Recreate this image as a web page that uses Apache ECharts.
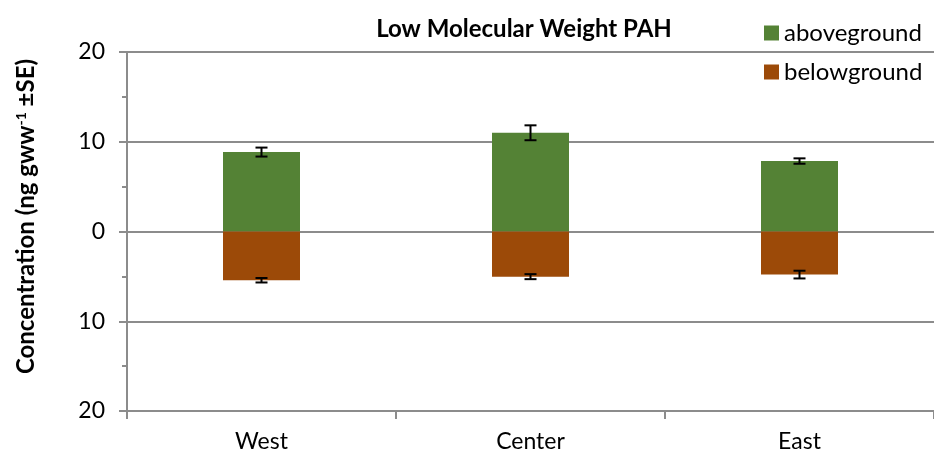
<!DOCTYPE html>
<html>
<head>
<meta charset="utf-8">
<script src="https://cdn.jsdelivr.net/npm/echarts@6/dist/echarts.min.js"></script>
<style>
  html, body { margin: 0; padding: 0; background: #ffffff; }
  #chart { width: 934px; height: 456px; }
</style>
</head>
<body>
<div id="chart"></div>
<script>
// Sites along the transect
const categories = ['West', 'Center', 'East'];
// Mean concentrations (ng gww^-1); belowground is plotted downward
const aboveground = [8.85, 11.0, 7.85];
const belowground = [5.43, 5.03, 4.80];
// Standard errors
const aboveSE = [0.50, 0.83, 0.30];
const belowSE = [0.25, 0.28, 0.43];
// Y tick values shown as magnitudes on both sides of zero
const yTicks = [-20, -10, 0, 10, 20];

const GREEN = '#548235';
const BROWN = '#9c4a08';
const GRID = '#8c8c8c';
const FONT = 'Lato';

const errData = [];
categories.forEach((c, i) => {
  errData.push([i, aboveground[i], aboveSE[i]]);
  errData.push([i, -belowground[i], belowSE[i]]);
});

function renderError(params, api) {
  const x = api.value(0);
  const v = api.value(1);
  const se = api.value(2);
  const hi = api.coord([x, v + se]);
  const lo = api.coord([x, v - se]);
  const cap = 6;
  const style = { stroke: '#000000', lineWidth: 2 };
  return {
    type: 'group',
    children: [
      { type: 'line', shape: { x1: hi[0], y1: hi[1], x2: lo[0], y2: lo[1] }, style },
      { type: 'line', shape: { x1: hi[0] - cap, y1: hi[1], x2: hi[0] + cap, y2: hi[1] }, style },
      { type: 'line', shape: { x1: lo[0] - cap, y1: lo[1], x2: lo[0] + cap, y2: lo[1] }, style }
    ]
  };
}

const chart = echarts.init(document.getElementById('chart'), null, { renderer: 'canvas' });
chart.setOption({
  animation: false,
  backgroundColor: '#ffffff',
  textStyle: { fontFamily: FONT },
  title: {
    text: 'Low Molecular Weight PAH',
    left: 519,
    textAlign: 'center',
    top: 12,
    textStyle: { fontFamily: FONT, fontWeight: 'bold', fontSize: 24, color: '#000000' }
  },
  legend: {
    orient: 'vertical',
    left: 764,
    top: 21,
    padding: 0,
    itemWidth: 15,
    itemHeight: 15,
    itemGap: 15,
    icon: 'rect',
    data: ['aboveground', 'belowground'],
    textStyle: { fontFamily: FONT, fontSize: 24, color: '#000000', padding: [0, 0, 0, 0] }
  },
  grid: { left: 127, right: -1, top: 52, bottom: 45, containLabel: false },
  xAxis: {
    type: 'category',
    data: categories,
    boundaryGap: true,
    axisLine: { onZero: false, lineStyle: { color: GRID, width: 2 } },
    axisTick: { show: true, interval: 0, length: 8, lineStyle: { color: GRID, width: 2 } },
    axisLabel: { margin: 19, fontFamily: FONT, fontSize: 23, color: '#000000' },
    splitLine: { show: false }
  },
  yAxis: {
    type: 'value',
    min: yTicks[0],
    max: yTicks[yTicks.length - 1],
    interval: 10,
    name: '{b|Concentration (ng gww}{s|-1}{b| ±SE)}',
    nameLocation: 'middle',
    nameRotate: 90,
    nameGap: 89,
    nameTextStyle: {
      padding: [0, 0, 0, 30],
      rich: {
        b: { fontFamily: FONT, fontWeight: 'bold', fontSize: 24, color: '#000000' },
        s: { fontFamily: FONT, fontWeight: 'bold', fontSize: 14, color: '#000000', verticalAlign: 'top', padding: [0, 0, 10, 0] }
      }
    },
    axisLine: { show: true, lineStyle: { color: GRID, width: 2 } },
    axisTick: { show: true, inside: false, length: 8, lineStyle: { color: GRID, width: 2 } },
    minorTick: { show: true, splitNumber: 2, length: 5, lineStyle: { color: GRID, width: 2 } },
    axisLabel: {
      margin: 22,
      fontFamily: FONT,
      fontSize: 23,
      color: '#000000',
      formatter: v => String(Math.abs(v))
    },
    splitLine: { show: true, lineStyle: { color: GRID, width: 2 } }
  },
  series: [
    {
      name: 'aboveground',
      type: 'bar',
      stack: 'conc',
      barWidth: 77,
      itemStyle: { color: GREEN },
      data: aboveground
    },
    {
      name: 'belowground',
      type: 'bar',
      stack: 'conc',
      barWidth: 77,
      itemStyle: { color: BROWN },
      data: belowground.map(v => -v)
    },
    {
      name: 'SE',
      type: 'custom',
      renderItem: renderError,
      data: errData,
      z: 10,
      encode: { x: 0, y: [1] }
    }
  ]
});
</script>
</body>
</html>
